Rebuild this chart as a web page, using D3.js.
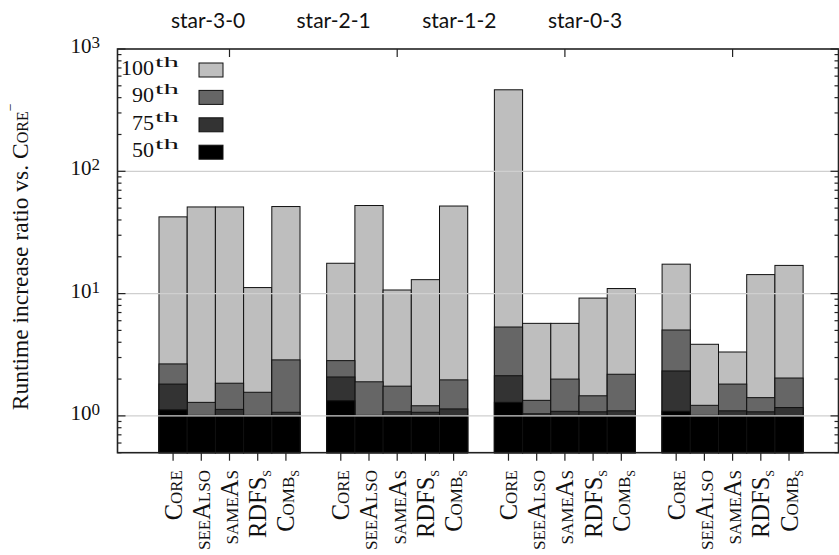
<!DOCTYPE html>
<html>
<head>
<meta charset="utf-8">
<script src="https://cdn.jsdelivr.net/npm/d3@7"></script>
<style>
  body { margin: 0; background: #fff; }
  svg { display: block; }
</style>
</head>
<body>
<script>
"use strict";

// groups (top labels) and the five configurations in each group
const groups = ["star-3-0", "star-2-1", "star-1-2", "star-0-3"];
const configs = ["Core", "seeAlso", "sameAs", "RDFS", "Comb"];
const configSubs = ["", "", "", "s", "s"];

// percentiles, drawn back to front
const percentiles = ["100", "90", "75", "50"];
const shades = ["#bebebe", "#666666", "#333333", "#000000"];

// runtime increase ratio, one row per group, one value per config
const p100 = [
    [42.4, 51.1, 51.1, 11.2, 51.5],
    [17.7, 52.5, 10.7, 13.0, 52.0],
    [464, 5.71, 5.71, 9.19, 11.0],
    [17.4, 3.85, 3.33, 14.3, 17.0]
];
const p90 = [
    [2.66, 1.29, 1.85, 1.56, 2.87],
    [2.83, 1.90, 1.75, 1.21, 1.97],
    [5.33, 1.34, 2.00, 1.46, 2.19],
    [5.04, 1.22, 1.82, 1.41, 2.04]
];
const p75 = [
    [1.82, 1.01, 1.13, 1.01, 1.07],
    [2.08, 1.01, 1.08, 1.07, 1.14],
    [2.13, 1.04, 1.09, 1.08, 1.10],
    [2.33, 1.01, 1.10, 1.08, 1.17]
];
const p50 = [
    [1.12, 1.0, 1.0, 1.0, 1.0],
    [1.33, 1.0, 1.0, 1.0, 1.0],
    [1.29, 1.0, 1.0, 1.0, 1.0],
    [1.09, 1.0, 1.0, 1.0, 1.0]
];
const series = [p100, p90, p75, p50];

const yTicks = [1, 10, 100, 1000];

const W = 839, H = 555;
const plot = {left: 117.5, right: 838.5, top: 49, bottom: 452.7};
const serif = "'Liberation Serif', 'DejaVu Serif', serif";

let svg = d3.select("body").append("svg").attr("width", W).attr("height", H);

let y = d3.scaleLog().domain([0.5, 1000]).range([plot.bottom, plot.top]);
let gx = d3.scaleBand().domain(groups).range([145.65, 816.45]).paddingInner(0.159).paddingOuter(0.0795);
let bx = d3.scaleBand().domain(configs).range([0, gx.bandwidth()]);
let titleX = d3.scalePoint().domain(groups).range([208, 585]);

// flatten into bar records
let bars = [];
series.forEach((s, si) => {
    groups.forEach((g, gi) => {
        configs.forEach((c, ci) => {
            bars.push({g: g, c: c, p: si, v: s[gi][ci]});
        });
    });
});

// bars, 100th first so the lower percentiles sit on top
svg.append("g")
    .selectAll("rect")
    .data(bars)
    .enter()
    .append("rect")
    .attr("x", d => gx(d.g) + bx(d.c))
    .attr("width", bx.bandwidth())
    .attr("y", d => y(d.v))
    .attr("height", d => y(0.5) - y(d.v))
    .attr("fill", d => shades[d.p])
    .attr("stroke", "#111")
    .attr("stroke-width", 1);

// grid lines in front of the bars
svg.append("g")
    .selectAll("line")
    .data(yTicks.filter(t => t < 1000))
    .enter()
    .append("line")
    .attr("x1", plot.left)
    .attr("x2", plot.right)
    .attr("y1", d => y(d))
    .attr("y2", d => y(d))
    .attr("stroke", "#cfcfcf")
    .attr("stroke-width", 1.2);

// minor ticks on both sides
let minor = [];
[0.1, 1, 10, 100].forEach(dec => {
    for (let k = 2; k <= 9; k++) {
        let v = k * dec;
        if (v >= 0.5 && v < 1000) minor.push(v);
    }
});
let axisG = svg.append("g").attr("stroke", "#222").attr("stroke-width", 1.2);
minor.forEach(v => {
    axisG.append("line").attr("x1", plot.left).attr("x2", plot.left + 4).attr("y1", y(v)).attr("y2", y(v));
    axisG.append("line").attr("x1", plot.right).attr("x2", plot.right - 4).attr("y1", y(v)).attr("y2", y(v));
});
yTicks.forEach(v => {
    axisG.append("line").attr("x1", plot.left).attr("x2", plot.left + 8).attr("y1", y(v)).attr("y2", y(v));
    axisG.append("line").attr("x1", plot.right).attr("x2", plot.right - 8).attr("y1", y(v)).attr("y2", y(v));
});

// x ticks below the frame, group ticks along the top
groups.forEach(g => {
    configs.forEach(c => {
        let cx = gx(g) + bx(c) + bx.bandwidth() / 2;
        axisG.append("line").attr("x1", cx).attr("x2", cx).attr("y1", plot.bottom).attr("y2", plot.bottom + 8);
    });
    let mid = gx(g) + gx.bandwidth() / 2;
    axisG.append("line").attr("x1", mid).attr("x2", mid).attr("y1", plot.top).attr("y2", plot.top + 8);
});

// frame
svg.append("rect")
    .attr("x", plot.left).attr("y", plot.top)
    .attr("width", plot.right - plot.left).attr("height", plot.bottom - plot.top)
    .attr("fill", "none").attr("stroke", "#222").attr("stroke-width", 1.6);

// y tick labels, 10^n
yTicks.forEach(v => {
    let t = svg.append("text")
        .attr("x", 100).attr("y", y(v) + 4)
        .attr("text-anchor", "end")
        .attr("font-family", serif).attr("font-size", 21).attr("fill", "#111");
    t.append("tspan").text("10");
    t.append("tspan").attr("dy", -5).attr("font-size", 17).text(Math.round(Math.log10(v)));
});

// y axis title
let yl = svg.append("text")
    .attr("transform", "translate(28," + ((plot.top + plot.bottom) / 2 + 6) + ") rotate(-90)")
    .attr("text-anchor", "middle")
    .attr("font-family", serif).attr("font-size", 23.5).attr("fill", "#111");
yl.append("tspan").text("Runtime increase ratio vs. ");
yl.append("tspan").attr("font-variant", "small-caps").text("Core");
yl.append("tspan").attr("dy", -13).attr("font-size", 14).text("\u2212");

// x tick labels, rotated
groups.forEach(g => {
    configs.forEach((c, ci) => {
        let cx = gx(g) + bx(c) + bx.bandwidth() / 2;
        let lg = svg.append("g")
            .attr("transform", "translate(" + (cx + 8.5) + ",470) rotate(-90)");
        let t = lg.append("text")
            .attr("text-anchor", "end")
            .attr("font-family", serif).attr("font-size", 24.5)
            .attr("fill", "#111");
        t.append("tspan").attr("font-variant", "small-caps").text(c);
        if (configSubs[ci]) {
            t.append("tspan").attr("dy", 5).attr("font-size", 17)
                .attr("font-variant", "small-caps").text(configSubs[ci]);
        }
    });
});

// group titles
svg.append("g")
    .selectAll("text")
    .data(groups)
    .enter()
    .append("text")
    .attr("x", d => titleX(d))
    .attr("y", 28)
    .attr("text-anchor", "middle")
    .attr("font-family", "Lato, 'Noto Sans', sans-serif")
    .attr("font-size", 21)
    .attr("fill", "#111")
    .text(d => d);

// legend, top left inside the frame
let leg = svg.append("g");
percentiles.forEach((p, i) => {
    let top = plot.top + 14 + i * 27.4;
    leg.append("rect")
        .attr("x", 199).attr("y", top).attr("width", 24).attr("height", 14)
        .attr("fill", shades[i]).attr("stroke", "#111").attr("stroke-width", 1);
    leg.append("text")
        .attr("x", 154).attr("y", top + 12)
        .attr("text-anchor", "end")
        .attr("font-family", serif).attr("font-size", 22).attr("fill", "#111")
        .text(p);
    leg.append("text")
        .attr("x", 155).attr("y", top + 4)
        .attr("font-family", serif).attr("font-size", 15).attr("fill", "#111")
        .attr("textLength", 24).attr("lengthAdjust", "spacingAndGlyphs")
        .text("th");
});
</script>
</body>
</html>
